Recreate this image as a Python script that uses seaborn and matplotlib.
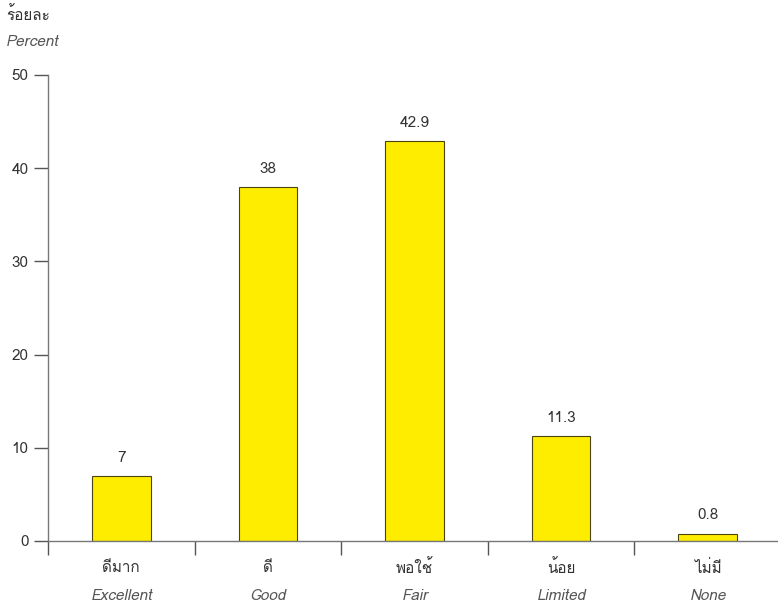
import matplotlib
matplotlib.use("Agg")
import matplotlib.pyplot as plt
import matplotlib.transforms as mtransforms
import seaborn as sns
import pandas as pd

categories_th = ["ดีมาก", "ดี", "พอใช้", "น้อย", "ไม่มี"]
categories_en = ["Excellent", "Good", "Fair", "Limited", "None"]
values = [7, 38, 42.9, 11.3, 0.8]
value_labels = ["7", "38", "42.9", "11.3", "0.8"]
yticks = [0, 10, 20, 30, 40, 50]

sns.set_theme(style="white")
plt.rcParams['font.family'] = ['Loma', 'Tlwg Typist', 'Garuda', 'Noto Sans Thai', 'DejaVu Sans', 'Noto Sans']

df = pd.DataFrame({"cat": categories_th, "val": values})

fig = plt.figure(figsize=(7.78, 6.05), dpi=100)
ax = fig.add_axes([48/778, 64/605, 733/778, 466/605])

sns.barplot(data=df, x="cat", y="val", color="#FFED00", width=0.4,
            edgecolor="#4a4510", linewidth=0.8, saturation=1, ax=ax)

ax.set_xlim(-0.5, 4.5)
ax.set_ylim(0, 50)
ax.set_yticks(yticks)
ax.set_yticklabels([str(t) for t in yticks], color="#333333", fontsize=11)
ax.set_xticks([i - 0.5 for i in range(len(values))])
ax.set_xticklabels([])
ax.set_xlabel("")
ax.set_ylabel("")

for s in ["top", "right"]:
    ax.spines[s].set_visible(False)
for s in ["left", "bottom"]:
    ax.spines[s].set_color("#777777")
    ax.spines[s].set_linewidth(1)

ax.tick_params(axis="y", direction="out", length=10, width=1, color="#555555", left=True, pad=4)
ax.tick_params(axis="x", direction="out", length=10, width=1, color="#555555", bottom=True)

trans = mtransforms.blended_transform_factory(ax.transData, fig.transFigure)
for i, (th, en) in enumerate(zip(categories_th, categories_en)):
    ax.text(i, 1 - 568/605, th, transform=trans, ha="center", va="center",
            fontsize=11, color="#333333")
    ax.text(i, 1 - 596/605, en, transform=trans, ha="center", va="center",
            fontsize=11, color="#555555", style="italic")

for i, (v, lab) in enumerate(zip(values, value_labels)):
    ax.text(i, v + 1.2, lab, ha="center", va="bottom", fontsize=11, color="#333333")

fig.text(6/778, 1 - 15/605, "ร้อยละ", ha="left", va="center", fontsize=11, color="#333333")
fig.text(6/778, 1 - 42/605, "Percent", ha="left", va="center", fontsize=11,
         color="#555555", style="italic")

fig.savefig("out.png", dpi=100)
